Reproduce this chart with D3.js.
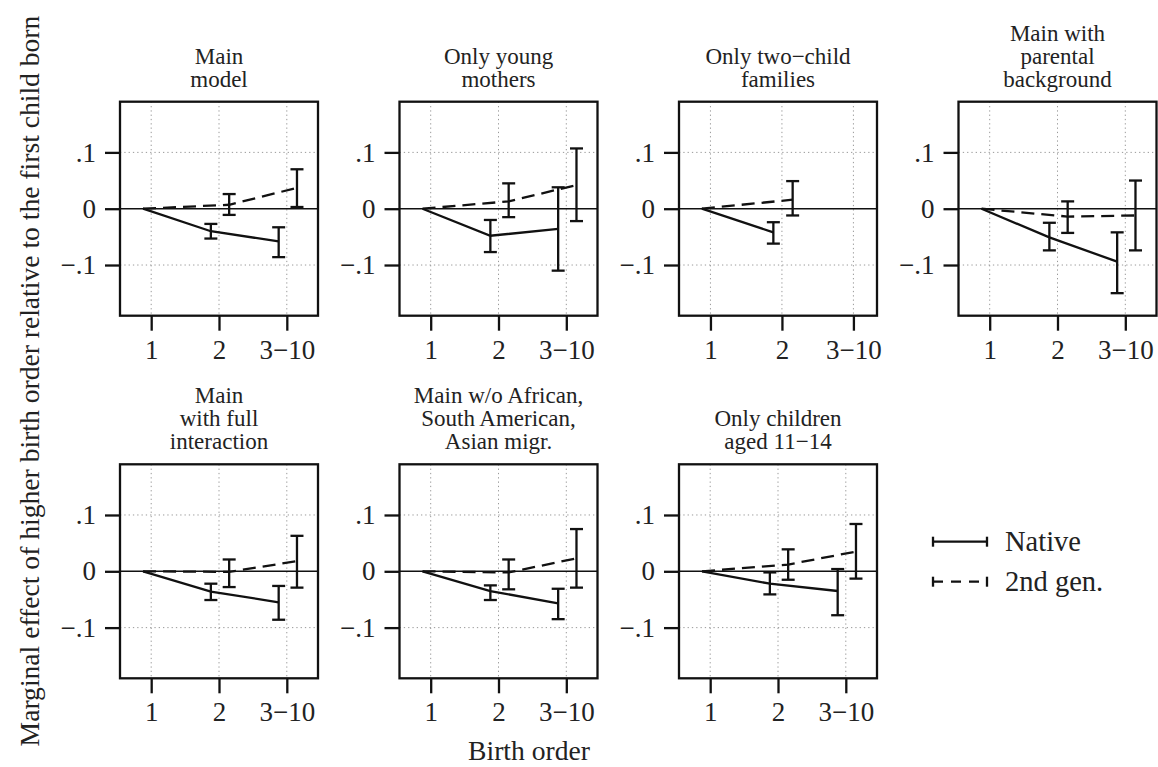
<!DOCTYPE html>
<html>
<head>
<meta charset="utf-8">
<script src="https://cdn.jsdelivr.net/npm/d3@7"></script>
<style>
  body { margin: 0; background: #fff; }
  text { font-family: "Liberation Serif", "Times New Roman", serif; fill: #222; }
</style>
</head>
<body>
<div id="chart"></div>
<script>
// panel titles (one array of lines per panel)
const panelTitles = [
  ["Main", "model"],
  ["Only young", "mothers"],
  ["Only two\u2212child", "families"],
  ["Main with", "parental", "background"],
  ["Main", "with full", "interaction"],
  ["Main w/o African,", "South American,", "Asian migr."],
  ["Only children", "aged 11\u221214"]
];
const birthOrders = ["1", "2", "3\u221210"];
const yTicks = [0.1, 0, -0.1];
const yTickLabels = [".1", "0", "\u2212.1"];

// estimates for birth order 2 and 3-10 (order 1 is the reference = 0)
const nativeEst = [[-0.040, -0.058], [-0.048, -0.036], [-0.042, null], [-0.051, -0.094], [-0.036, -0.055], [-0.035, -0.057], [-0.022, -0.035]];
const nativeLo  = [[-0.053, -0.086], [-0.077, -0.110], [-0.062, null], [-0.074, -0.150], [-0.051, -0.086], [-0.051, -0.085], [-0.041, -0.078]];
const nativeHi  = [[-0.027, -0.033], [-0.020,  0.038], [-0.024, null], [-0.025, -0.042], [-0.022, -0.026], [-0.025, -0.031], [-0.002,  0.004]];
const secondEst = [[ 0.007,  0.037], [ 0.013,  0.042], [ 0.016, null], [-0.014, -0.012], [-0.001,  0.018], [-0.002,  0.023], [ 0.012,  0.035]];
const secondLo  = [[-0.011,  0.003], [-0.015, -0.022], [-0.012, null], [-0.043, -0.074], [-0.028, -0.029], [-0.032, -0.029], [-0.015, -0.013]];
const secondHi  = [[ 0.026,  0.070], [ 0.045,  0.107], [ 0.049, null], [ 0.013,  0.050], [ 0.021,  0.063], [ 0.021,  0.075], [ 0.039,  0.084]];

const seriesNames = ["Native", "2nd gen."];

const W = 1158, H = 767;
const svg = d3.select("#chart").append("svg").attr("width", W).attr("height", H);

const pw = 198, ph = 214;
const colX = [120, 399.5, 679, 958.5];
const rowY = [101.7, 464.3];
const offN = -0.12, offS = 0.15, start = 0.88;
const lw = 2.3;

const y = d3.scaleLinear().domain([-0.19, 0.19]).range([ph, 0]);

panelTitles.forEach((title, i) => {
  const g = svg.append("g")
    .attr("transform", `translate(${colX[i % 4]},${rowY[Math.floor(i / 4)]})`);
  const full = nativeEst[i][1] != null;
  const x = d3.scaleLinear().domain(full ? [0.54, 3.46] : [0.56, 3.33]).range([0, pw]);

  // dotted grid
  g.selectAll(".vg").data([1, 2, 3]).join("line")
    .attr("x1", d => x(d)).attr("x2", d => x(d)).attr("y1", 0).attr("y2", ph)
    .attr("stroke", "#999").attr("stroke-width", 1).attr("stroke-dasharray", "1.3,3");
  g.selectAll(".hg").data([0.1, -0.1]).join("line")
    .attr("x1", 0).attr("x2", pw).attr("y1", d => y(d)).attr("y2", d => y(d))
    .attr("stroke", "#999").attr("stroke-width", 1).attr("stroke-dasharray", "1.3,3");
  g.append("line").attr("x1", 0).attr("x2", pw).attr("y1", y(0)).attr("y2", y(0))
    .attr("stroke", "#111").attr("stroke-width", 1.6);

  // axes
  const xa = g.append("g").attr("transform", `translate(0,${ph})`)
    .call(d3.axisBottom(x).tickValues([1, 2, 3]).tickFormat((d, j) => birthOrders[j])
      .tickSize(15).tickSizeOuter(0).tickPadding(9));
  const ya = g.append("g")
    .call(d3.axisLeft(y).tickValues(yTicks).tickFormat((d, j) => yTickLabels[j])
      .tickSize(15).tickSizeOuter(0).tickPadding(9));
  [xa, ya].forEach(a => {
    a.select(".domain").remove();
    a.selectAll("line").attr("stroke", "#111").attr("stroke-width", lw);
    a.selectAll("text").style("font-size", "27px")
      .style("font-family", '"Liberation Serif", serif').attr("fill", "#222");
  });

  // box
  g.append("rect").attr("width", pw).attr("height", ph)
    .attr("fill", "none").attr("stroke", "#111").attr("stroke-width", lw);

  // title
  const n = title.length;
  g.append("text").attr("text-anchor", "middle").style("font-size", "23px")
    .selectAll("tspan").data(title).join("tspan")
    .attr("x", pw / 2).attr("y", (d, j) => -15 - (n - 1 - j) * 23).text(d => d);

  // series
  const series = [
    { est: nativeEst[i], lo: nativeLo[i], hi: nativeHi[i], off: offN, dash: null },
    { est: secondEst[i], lo: secondLo[i], hi: secondHi[i], off: offS, dash: "13,7" }
  ];
  series.forEach(s => {
    const pts = [[start, 0]];
    s.est.forEach((v, j) => { if (v != null) pts.push([2 + j + s.off, v]); });
    g.append("path")
      .attr("d", d3.line().x(d => x(d[0])).y(d => y(d[1]))(pts))
      .attr("fill", "none").attr("stroke", "#111").attr("stroke-width", lw)
      .attr("stroke-dasharray", s.dash);
    const bars = s.est.map((v, j) => ({ v, lo: s.lo[j], hi: s.hi[j], xv: 2 + j + s.off }))
      .filter(d => d.v != null);
    const eb = g.append("g").attr("stroke", "#111").attr("stroke-width", lw);
    eb.selectAll(".ev").data(bars).join("line")
      .attr("x1", d => x(d.xv)).attr("x2", d => x(d.xv))
      .attr("y1", d => y(d.lo)).attr("y2", d => y(d.hi));
    eb.selectAll(".el").data(bars).join("line")
      .attr("x1", d => x(d.xv) - 6.5).attr("x2", d => x(d.xv) + 6.5)
      .attr("y1", d => y(d.lo)).attr("y2", d => y(d.lo));
    eb.selectAll(".eh").data(bars).join("line")
      .attr("x1", d => x(d.xv) - 6.5).attr("x2", d => x(d.xv) + 6.5)
      .attr("y1", d => y(d.hi)).attr("y2", d => y(d.hi));
  });
});

// legend
const leg = svg.append("g").attr("transform", "translate(933,541.7)");
seriesNames.forEach((name, k) => {
  const gy = k * 40;
  leg.append("line").attr("x1", 0).attr("x2", 54).attr("y1", gy).attr("y2", gy)
    .attr("stroke", "#111").attr("stroke-width", lw)
    .attr("stroke-dasharray", k === 1 ? "10,8" : null);
  [0, 54].forEach(ex => leg.append("line").attr("x1", ex).attr("x2", ex)
    .attr("y1", gy - 5).attr("y2", gy + 5).attr("stroke", "#111").attr("stroke-width", lw));
  leg.append("text").attr("x", 72).attr("y", gy + 9).style("font-size", "28.5px").text(name);
});

// axis titles
svg.append("text").attr("x", 529).attr("y", 760).attr("text-anchor", "middle")
  .style("font-size", "27.6px").text("Birth order");
svg.append("text").attr("transform", "translate(39,381) rotate(-90)").attr("text-anchor", "middle")
  .style("font-size", "27.6px")
  .text("Marginal effect of higher birth order relative to the first child born");
</script>
</body>
</html>
